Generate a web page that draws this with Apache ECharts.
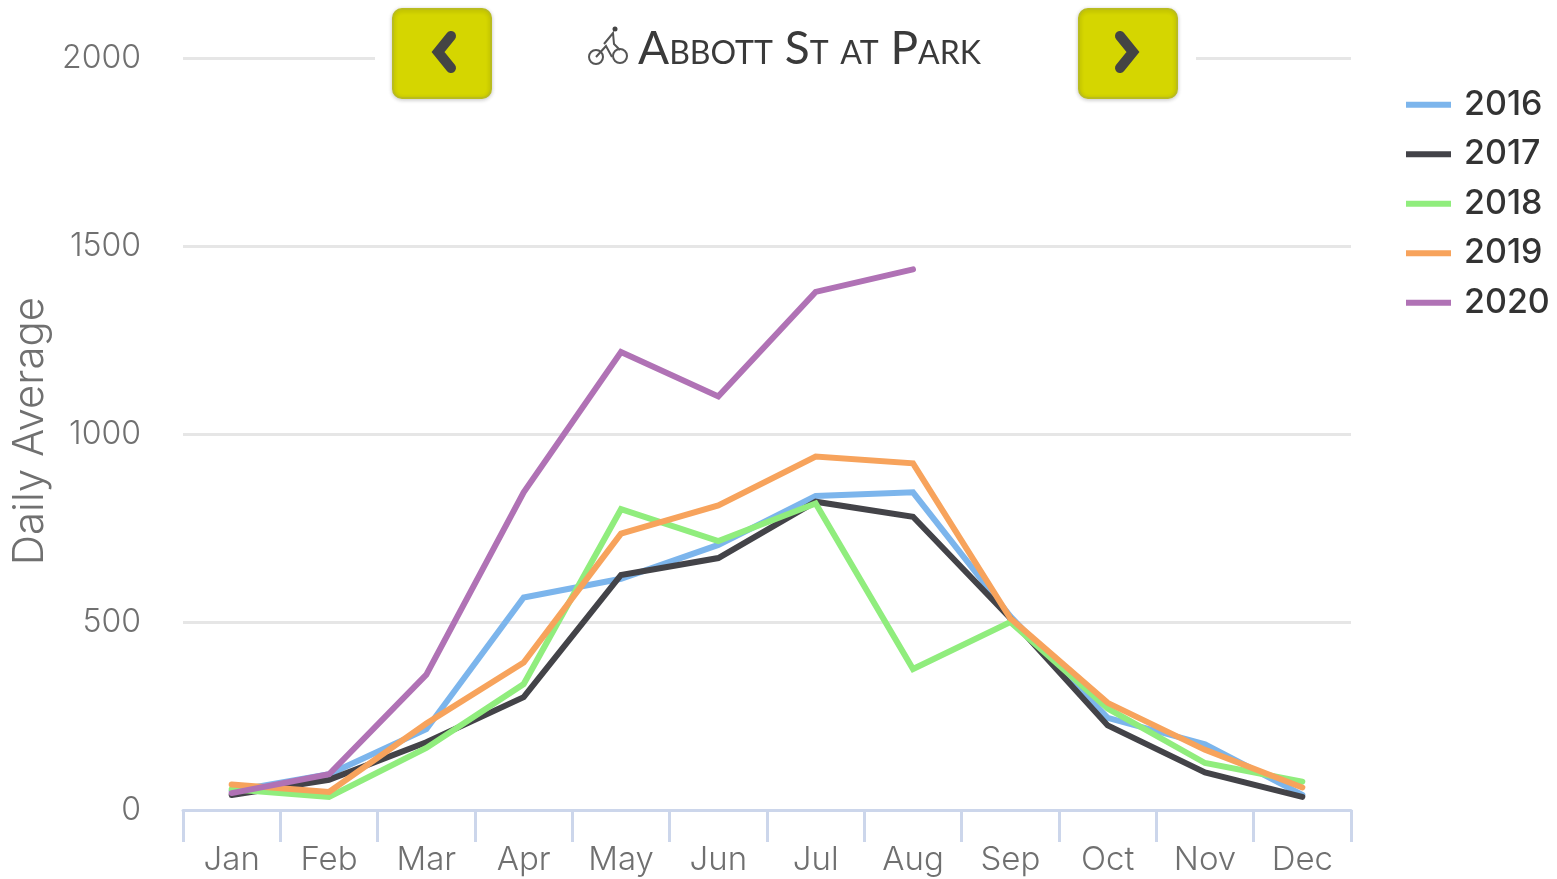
<!DOCTYPE html>
<html>
<head>
<meta charset="utf-8">
<title>Abbott St at Park</title>
<style>
  html, body { margin: 0; padding: 0; background: #fff; }
  #main { width: 1557px; height: 879px; }
</style>
<script src="https://cdn.jsdelivr.net/npm/echarts@6/dist/echarts.min.js"></script>
</head>
<body>
<div id="main"></div>
<script>
var months = ['Jan', 'Feb', 'Mar', 'Apr', 'May', 'Jun', 'Jul', 'Aug', 'Sep', 'Oct', 'Nov', 'Dec'];
var y2016 = [50, 95, 215, 565, 615, 705, 835, 845, 515, 245, 175, 40];
var y2017 = [40, 80, 180, 300, 625, 670, 820, 780, 510, 225, 100, 35];
var y2018 = [55, 35, 165, 335, 800, 715, 815, 375, 500, 270, 125, 75];
var y2019 = [68, 48, 230, 392, 735, 810, 940, 922, 510, 285, 160, 60];
var y2020 = [45, 95, 360, 845, 1218, 1100, 1378, 1438];
var titleText = 'Abbott St at Park';

var chart = echarts.init(document.getElementById('main'));

function line(name, data, color) {
  return {
    name: name,
    type: 'line',
    data: data,
    symbol: 'none',
    lineStyle: { width: 6, color: color, cap: 'round', join: 'miter' },
    itemStyle: { color: color },
    emphasis: { disabled: true }
  };
}

// prev / next buttons
function button(x, points) {
  return [
    {
      type: 'rect', z: 20,
      shape: { x: x, y: 9, width: 98, height: 89, r: 9 },
      style: { fill: '#d5d600', stroke: '#b9bc1e', lineWidth: 2, shadowBlur: 4, shadowColor: 'rgba(0,0,0,0.2)', shadowOffsetY: 1 }
    },
    {
      type: 'polyline', z: 21,
      shape: { points: points },
      style: { fill: 'none', stroke: '#444444', lineWidth: 10, lineCap: 'round', lineJoin: 'miter' }
    }
  ];
}

var option = {
  animation: false,
  backgroundColor: '#fff',
  grid: { left: 183, right: 206, top: 58, bottom: 69, containLabel: false, outerBoundsMode: 'none' },
  legend: {
    orient: 'vertical',
    left: 1401,
    top: 81,
    icon: 'rect',
    itemWidth: 45,
    itemHeight: 6,
    itemGap: 12,
    selectedMode: false,
    textStyle: { fontFamily: 'Inter', fontWeight: 500, fontSize: 34, lineHeight: 37.5, color: '#333333', padding: [0, 0, 0, 8] },
    data: ['2016', '2017', '2018', '2019', '2020']
  },
  xAxis: {
    type: 'category',
    data: months,
    boundaryGap: true,
    axisLine: { lineStyle: { color: '#ccd6eb', width: 3 } },
    axisTick: { show: true, length: 32, lineStyle: { color: '#ccd6eb', width: 3 } },
    axisLabel: { fontFamily: 'Inter', fontWeight: 300, fontSize: 33, color: '#707070', margin: 34, interval: 0 }
  },
  yAxis: {
    type: 'value',
    min: 0,
    max: 2000,
    interval: 500,
    name: 'Daily Average',
    nameLocation: 'middle',
    nameGap: 130,
    nameRotate: 90,
    nameTextStyle: { fontFamily: 'Inter', fontWeight: 300, fontSize: 42, color: '#707070', padding: [0, 0, 0, 6] },
    axisLine: { show: false },
    axisTick: { show: false },
    axisLabel: {
      fontFamily: 'Inter', fontWeight: 300, fontSize: 32, color: '#707070', margin: 42,
      formatter: function(v) { return String(v); }
    },
    splitLine: { lineStyle: { color: '#e6e6e6', width: 3 } }
  },
  series: [
    line('2016', y2016, '#7cb5ec'),
    line('2017', y2017, '#434348'),
    line('2018', y2018, '#90ed7d'),
    line('2019', y2019, '#f7a35c'),
    line('2020', y2020, '#b072b5')
  ],
  graphic: {
    elements: [
      // hides the 2000 gridline behind the title bar
      { type: 'rect', z: 10, shape: { x: 375, y: 45, width: 821, height: 25 }, style: { fill: '#fff' } }
    ].concat(
      button(393, [[451, 36], [438, 52], [451, 68]]),
      button(1079, [[1120, 36], [1133, 52], [1120, 68]]),
      [
        {
          type: 'text', z: 21, x: 638, y: 26,
          style: { text: titleText, font: 'small-caps 400 46px Lato', fill: '#3a3a3a' }
        },
        // bike icon
        { type: 'circle', z: 21, shape: { cx: 596, cy: 57, r: 7 }, style: { fill: 'none', stroke: '#555', lineWidth: 2 } },
        { type: 'circle', z: 21, shape: { cx: 620, cy: 56, r: 7 }, style: { fill: 'none', stroke: '#555', lineWidth: 2 } },
        { type: 'circle', z: 21, shape: { cx: 615, cy: 29, r: 2.5 }, style: { fill: '#444' } },
        { type: 'polyline', z: 21, shape: { points: [[604, 44], [613, 33], [614, 44], [620, 50]] }, style: { fill: 'none', stroke: '#555', lineWidth: 2 } },
        { type: 'polyline', z: 21, shape: { points: [[596, 57], [606, 46], [612, 57]] }, style: { fill: 'none', stroke: '#555', lineWidth: 2 } }
      ]
    )
  }
};
chart.setOption(option);
</script>
</body>
</html>
